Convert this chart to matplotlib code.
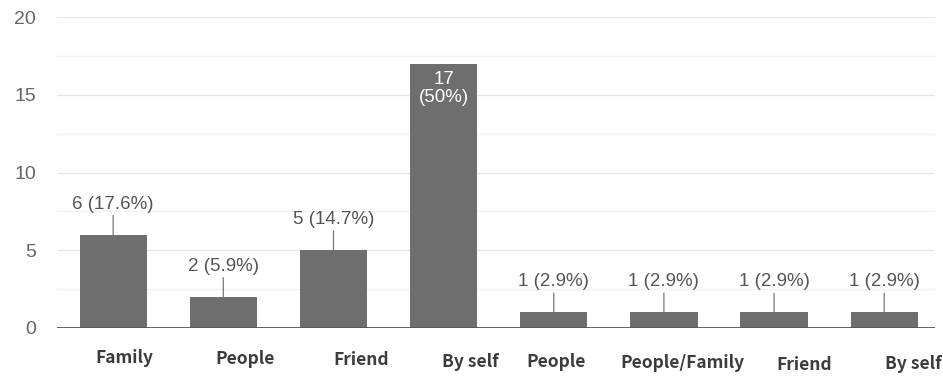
import matplotlib
matplotlib.use("Agg")
import matplotlib.pyplot as plt
import matplotlib.transforms as mtransforms

# data
categories = ["Family", "People", "Friend", "By self",
              "People", "People/Family", "Friend", "By self"]
counts = [6, 2, 5, 17, 1, 1, 1, 1]
percents = ["17.6%", "5.9%", "14.7%", "50%", "2.9%", "2.9%", "2.9%", "2.9%"]

# small shifts of the category labels (pixels), as in the picture
label_dx = [11, 22, 28, 27, 2, 19, 30, 29]
label_dy = [0, 1, 2, 4, 4, 5, 7, 6]

bar_color = "#6e6e6e"
text_color = "#555555"

fig = plt.figure(figsize=(9.43, 3.79), dpi=100)
ax = fig.add_axes([0.0604, 0.1346, 0.931, 0.8204])

x = list(range(len(categories)))
ax.bar(x, counts, width=0.61, color=bar_color, zorder=3)

# grid: major every 5, faint minor in between
ax.set_ylim(0, 20)
ax.set_xlim(-0.51, 7.46)
ax.set_yticks([0, 5, 10, 15, 20])
ax.set_yticks([2.5, 7.5, 12.5, 17.5], minor=True)
ax.grid(axis="y", which="major", color="#e6e6e6", lw=1.0, zorder=0)
ax.grid(axis="y", which="minor", color="#f2f2f2", lw=1.0, zorder=0)
ax.axhline(0, color="#555555", lw=1.3, zorder=4)

for s in ax.spines.values():
    s.set_visible(False)

ax.tick_params(axis="y", which="both", length=0, pad=15,
               labelsize=14, labelcolor="#666666")
ax.tick_params(axis="x", length=0, pad=15)

ax.set_xticks(x)
ax.set_xticklabels(categories, fontfamily=["Noto Sans CJK KR", "DejaVu Sans"],
                   fontsize=12.5, fontweight="bold", color="#3c3c3c")
for lab, dx, dy in zip(ax.get_xticklabels(), label_dx, label_dy):
    lab.set_transform(lab.get_transform() +
                      mtransforms.ScaledTranslation(dx / 100, -dy / 100, fig.dpi_scale_trans))

# value labels
for i, (c, p) in enumerate(zip(counts, percents)):
    if c == max(counts):
        ax.annotate(f"{c}\n({p})", xy=(i, c), xytext=(0, -5),
                    textcoords="offset points", ha="center", va="top",
                    fontsize=13.5, color="white", linespacing=1.1,
                    fontfamily="Liberation Sans", zorder=5)
    else:
        ax.annotate(f"{c} ({p})", xy=(i, c), xytext=(0, 22),
                    textcoords="offset points", ha="center", va="center",
                    fontsize=13.5, color=text_color, fontfamily="Liberation Sans",
                    arrowprops=dict(arrowstyle="-", color="#777777", lw=0.9,
                                    shrinkA=0, shrinkB=0),
                    zorder=5)

for lab in ax.get_yticklabels():
    lab.set_fontfamily("Liberation Sans")

fig.savefig("out.png", dpi=100)
